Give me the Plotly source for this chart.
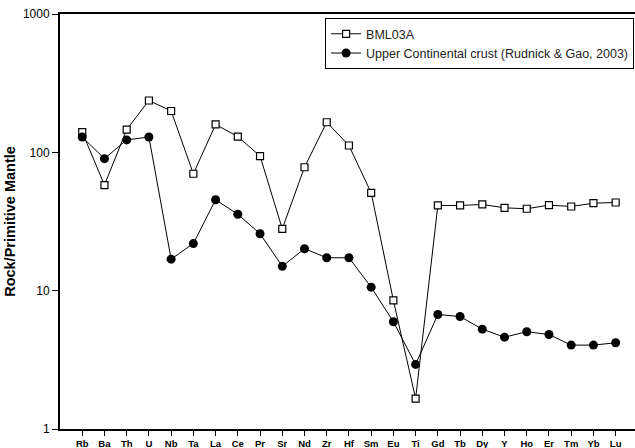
import plotly.graph_objects as go

elements = ["Rb", "Ba", "Th", "U", "Nb", "Ta", "La", "Ce", "Pr", "Sr", "Nd", "Zr", "Hf",
            "Sm", "Eu", "Ti", "Gd", "Tb", "Dy", "Y", "Ho", "Er", "Tm", "Yb", "Lu"]

bml03a = [140, 58, 146, 237, 199, 70, 159, 130, 94, 28, 78, 165, 112,
          51, 8.5, 1.66, 41.3, 41.3, 42, 39.7, 39.1, 41.5, 40.6, 42.9, 43.4]

ucc = [129, 90, 123, 129, 16.9, 21.9, 45.4, 35.7, 25.8, 15.0, 20.1, 17.3, 17.3,
       10.6, 5.96, 2.93, 6.73, 6.5, 5.27, 4.61, 5.05, 4.82, 4.04, 4.04, 4.2]

y_ticks = [1, 10, 100, 1000]

fig = go.Figure()
fig.add_trace(go.Scatter(
    x=elements, y=bml03a, name="BML03A", mode="lines+markers",
    line=dict(color="black", width=1),
    marker=dict(symbol="square", size=7, color="white", line=dict(color="black", width=1.2)),
))
fig.add_trace(go.Scatter(
    x=elements, y=ucc, name="Upper Continental crust (Rudnick & Gao, 2003)", mode="lines+markers",
    line=dict(color="black", width=1),
    marker=dict(symbol="circle", size=9, color="black", line=dict(color="black", width=0)),
))

fig.update_layout(
    width=635, height=448,
    margin=dict(l=60, r=0, t=14, b=19),
    paper_bgcolor="white", plot_bgcolor="white",
    font=dict(family="Liberation Sans, Arial, sans-serif", color="black", size=12),
    showlegend=True,
    legend=dict(
        x=0.461, y=0.99, xanchor="left", yanchor="top",
        bordercolor="black", borderwidth=1, bgcolor="white",
        font=dict(size=12.5, color="#222"), tracegroupgap=0,
    ),
)
fig.update_xaxes(
    type="category", range=[-1, 24.87],
    showline=True, linecolor="black", linewidth=2, mirror=True,
    ticks="outside", ticklen=5, tickwidth=1, tickcolor="black",
    showgrid=False, zeroline=False,
    tickfont=dict(size=9.5, family="Liberation Sans, Arial, sans-serif", weight="bold"),
)
fig.update_yaxes(
    type="log", range=[0, 3],
    tickvals=y_ticks, ticktext=[str(v) for v in y_ticks],
    showline=True, linecolor="black", linewidth=2, mirror=False,
    ticks="outside", ticklen=6, tickwidth=1, tickcolor="black",
    showgrid=False, zeroline=False,
    tickfont=dict(size=12),
    title=dict(text="Rock/Primitive Mantle", font=dict(size=14.5, weight="bold"), standoff=4),
)

fig.write_html("out.html")
